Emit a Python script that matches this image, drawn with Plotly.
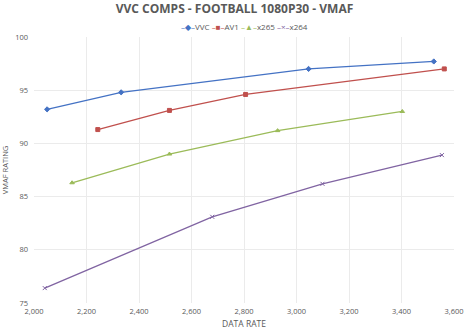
import plotly.graph_objects as go

# Rate-quality points per encoder (data rate in kbps, VMAF score)
vvc_rate = [2050, 2332, 3046, 3523]
vvc_vmaf = [93.2, 94.8, 97.0, 97.7]

av1_rate = [2243, 2516, 2806, 3563]
av1_vmaf = [91.3, 93.1, 94.6, 97.0]

x265_rate = [2145, 2516, 2928, 3403]
x265_vmaf = [86.3, 89.0, 91.2, 93.0]

x264_rate = [2041, 2679, 3099, 3554]
x264_vmaf = [76.4, 83.1, 86.2, 88.9]

x_ticks = [2000, 2200, 2400, 2600, 2800, 3000, 3200, 3400, 3600]
y_ticks = [75, 80, 85, 90, 95, 100]

series = [
    # name, rates, scores, colour, marker, legend glyph
    ("VVC", vvc_rate, vvc_vmaf, "#4472C4", "diamond", "◆"),
    ("AV1", av1_rate, av1_vmaf, "#C0504D", "square", "■"),
    ("x265", x265_rate, x265_vmaf, "#9BBB59", "triangle-up", "▲"),
    ("x264", x264_rate, x264_vmaf, "#8064A2", "x-thin", "×"),
]

fig = go.Figure()
for name, xs, ys, color, symbol, _ in series:
    fig.add_trace(go.Scatter(
        x=xs, y=ys, name=name, mode="lines+markers",
        line=dict(color=color, width=1.3),
        marker=dict(symbol=symbol, size=4, color=color,
                    line=dict(color=color, width=1)),
        showlegend=False,
    ))

# Compact inline legend above the plot
legend_parts = []
for name, _, _, color, _, glyph in series:
    legend_parts.append(
        f"<span style='color:{color}'>–{glyph}–</span>{name}"
    )
fig.add_annotation(
    text=" ".join(legend_parts),
    xref="paper", yref="paper", x=0.5, y=1.041,
    xanchor="center", yanchor="middle", showarrow=False,
    font=dict(size=8, color="#595959"),
)

font_family = "Open Sans, Liberation Sans, sans-serif"
fig.update_layout(
    width=469, height=330,
    margin=dict(l=34, r=15, t=37, b=27),
    paper_bgcolor="white", plot_bgcolor="white",
    font=dict(family=font_family, color="#595959", size=8),
    title=dict(text="<b>VVC COMPS - FOOTBALL 1080P30 - VMAF</b>",
               x=0.5, xanchor="center", y=0.972, yanchor="middle",
               font=dict(size=12, color="#595959")),
    showlegend=False,
)
fig.update_xaxes(
    range=[2000, 3600], tickvals=x_ticks,
    ticktext=[f"{v:,}" for v in x_ticks],
    showgrid=True, gridcolor="#EBEBEB", gridwidth=1,
    zeroline=False, showline=False, ticks="",
    automargin=False, ticklabelstandoff=2,
    tickfont=dict(size=7.5, color="#595959"),
    title=dict(text="DATA RATE", font=dict(size=8.5, color="#595959"), standoff=6),
)
fig.update_yaxes(
    range=[75, 100], tickvals=y_ticks,
    showgrid=True, gridcolor="#EBEBEB", gridwidth=1,
    zeroline=False, showline=False, ticks="",
    automargin=False, ticklabelstandoff=5,
    tickfont=dict(size=7.5, color="#595959"),
    title=dict(text="VMAF RATING", font=dict(size=7.5, color="#595959"), standoff=6),
)

fig.write_html("out.html")
